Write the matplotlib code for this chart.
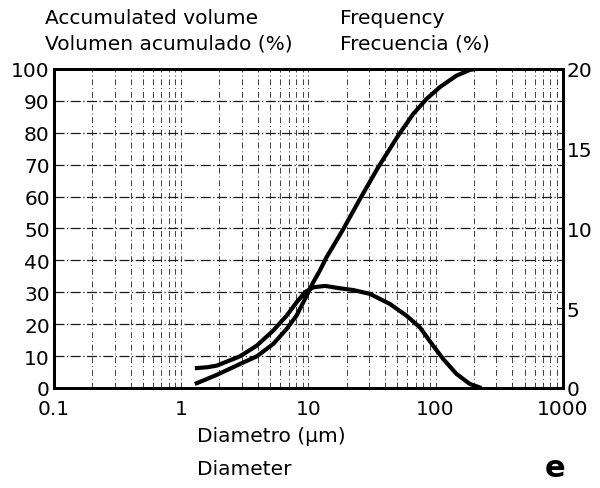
import numpy as np
import matplotlib
matplotlib.use("Agg")
import matplotlib.pyplot as plt
from matplotlib.ticker import FixedLocator, NullFormatter

# Accumulated volume (%)
cum_d = [1.28, 1.9, 2.89, 3.92, 5.29, 6.74, 8.07, 9.68, 10.9, 12.3, 13.9, 18.8, 25.4,
         35.4, 50.8, 66.7, 84.9, 108, 146, 186, 209]
cum_v = [1.25, 4.1, 7.5, 9.9, 13.8, 18.5, 22.7, 28.9, 33.1, 36.8, 41.0, 49.8, 59.2,
         69.2, 79.1, 85.9, 90.6, 94.3, 97.9, 99.7, 100]

# Frequency (%), right axis
freq_d = [1.28, 1.6, 1.9, 2.89, 3.92, 5.29, 6.74, 8.07, 9.4, 10.9, 13.5, 17.7, 22.5,
          30.4, 43.7, 59.1, 75.2, 95.7, 114.7, 146, 186, 229]
freq_v = [1.24, 1.3, 1.4, 1.98, 2.65, 3.6, 4.53, 5.37, 6.0, 6.31, 6.4, 6.25, 6.14,
          5.9, 5.27, 4.53, 3.8, 2.65, 1.82, 0.88, 0.25, 0]

x_ticks = [0.1, 1, 10, 100, 1000]
x_labels = ["0.1", "1", "10", "100", "1000"]
left_ticks = list(range(0, 101, 10))
right_ticks = [0, 5, 10, 15, 20]

fs = 14.5
plt.rcParams["font.family"] = ["DejaVu Sans"]

fig = plt.figure(figsize=(6, 4.89), dpi=100)
ax = fig.add_axes([0.09, 0.2045, 0.848, 0.6525])
ax2 = ax.twinx()

ax.set_xscale("log")
ax.set_xlim(0.1, 1000)
ax.set_ylim(0, 100)
ax2.set_ylim(0, 20)

# grid, dash-dot like the printed chart
minor = [m * 10.0**e for e in range(-1, 3) for m in range(2, 10)]
for xv in minor + x_ticks[1:-1]:
    ax.axvline(xv, color="0.25", lw=0.7, ls=(0, (6, 3, 1, 3)), zorder=1)
for yv in left_ticks[1:-1]:
    ax.axhline(yv, color="0.1", lw=0.9, ls=(0, (8, 2, 1, 2)), zorder=1)

ax.plot(cum_d, cum_v, color="black", lw=3, solid_capstyle="butt",
        solid_joinstyle="round", zorder=3)
ax2.plot(freq_d, freq_v, color="black", lw=3, solid_capstyle="butt",
         solid_joinstyle="round", zorder=3)

ax.xaxis.set_major_locator(FixedLocator(x_ticks))
ax.set_xticklabels(x_labels)
ax.xaxis.set_minor_locator(FixedLocator(minor))
ax.xaxis.set_minor_formatter(NullFormatter())
ax.set_yticks(left_ticks)
ax2.set_yticks(right_ticks)

ax.tick_params(axis="both", which="both", length=0, labelsize=fs, pad=3)
ax.tick_params(axis="x", pad=8)
ax2.tick_params(axis="y", length=4, direction="in", labelsize=fs, pad=3)

for a in (ax, ax2):
    for s in a.spines.values():
        s.set_linewidth(2)
        s.set_color("black")

fig.text(0.075, 0.963, "Accumulated volume", fontsize=fs, va="center", ha="left")
fig.text(0.075, 0.91, "Volumen acumulado (%)", fontsize=fs, va="center", ha="left")
fig.text(0.567, 0.963, "Frequency", fontsize=fs, va="center", ha="left")
fig.text(0.567, 0.91, "Frecuencia (%)", fontsize=fs, va="center", ha="left")

fig.text(0.328, 0.108, "Diametro (µm)", fontsize=fs, ha="left", va="center")
fig.text(0.328, 0.039, "Diameter", fontsize=fs, ha="left", va="center")
fig.text(0.925, 0.042, "e", fontsize=22, fontweight="bold", ha="center", va="center")

fig.savefig("out.png", dpi=100)
